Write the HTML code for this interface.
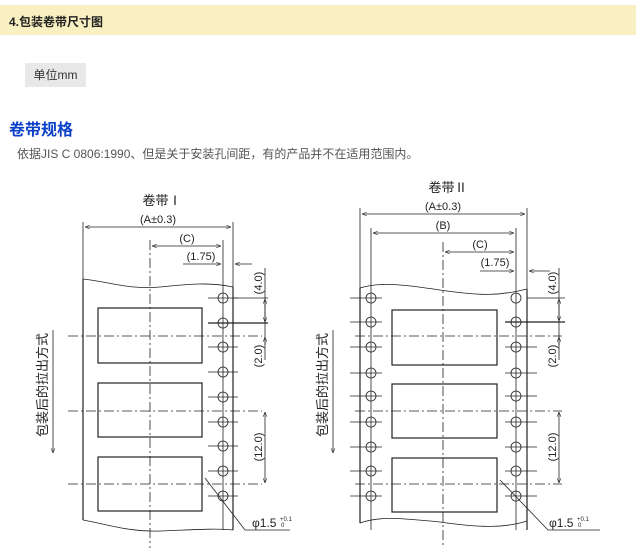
<!DOCTYPE html>
<html><head><meta charset="utf-8">
<style>
html,body{margin:0;padding:0;background:#fff;width:636px;height:551px;overflow:hidden}
body{font-family:"Liberation Sans","Noto Sans CJK SC",sans-serif;position:relative}
.hdr{position:absolute;left:0;top:5px;width:636px;height:30px;background:#f8f0c0;}
.hdr span{position:absolute;left:9px;top:8px;font-size:12px;font-weight:bold;color:#222}
.unit{position:absolute;left:25px;top:63px;width:61px;height:24px;background:#e8e8e8;font-size:12px;color:#333;line-height:24px;text-align:center}
.ttl{position:absolute;left:9px;top:116px;font-size:16px;font-weight:bold;color:#0a3fc7}
.desc{position:absolute;left:17px;top:145px;font-size:12px;color:#555}
svg{position:absolute;left:0;top:0}
</style></head><body>
<div class="hdr"><span>4.包装卷带尺寸图</span></div>
<div class="unit">单位mm</div>
<div class="ttl">卷带规格</div>
<div class="desc">依据JIS C 0806:1990、但是关于安装孔间距，有的产品并不在适用范围内。</div>
<svg width="636" height="551" viewBox="0 0 636 551" font-family="Liberation Sans, Noto Sans CJK SC, sans-serif">
<defs>
<marker id="a" viewBox="0 0 10 10" refX="10" refY="5" markerWidth="6" markerHeight="6" orient="auto-start-reverse"><path d="M0,1 L10,5 L0,9" fill="none" stroke="#222" stroke-width="1.2"/></marker>
</defs>
<g stroke="#222" fill="none" stroke-width="0.8">
<!-- LEFT -->
<line x1="83" y1="222" x2="83" y2="279"/><line x1="233" y1="222" x2="233" y2="287"/>
<line x1="85" y1="227" x2="231" y2="227" marker-start="url(#a)" marker-end="url(#a)"/>
<line x1="223" y1="240" x2="223" y2="530"/>
<line x1="152" y1="246" x2="221" y2="246" marker-start="url(#a)" marker-end="url(#a)"/>
<line x1="183" y1="264" x2="221" y2="264" marker-end="url(#a)"/>
<line x1="252" y1="264" x2="235" y2="264" marker-end="url(#a)"/>
<path d="M83,279 C110,282 130,290 160,287 C190,284 210,282 233,287" />
<path d="M83,520 C110,525 130,532 160,531 C190,530 215,528 233,530" />
<line x1="83" y1="279" x2="83" y2="520" stroke-width="1.2"/>
<line x1="233" y1="287" x2="233" y2="530" stroke-width="1.2"/>
<line x1="150" y1="240" x2="150" y2="548" stroke-dasharray="10,3,2,3"/>
<g stroke-dasharray="10,3,2,3"><line x1="68" y1="336" x2="262" y2="336"/><line x1="68" y1="411" x2="262" y2="411"/><line x1="68" y1="484" x2="262" y2="484"/></g>
<rect x="98" y="308" width="104" height="55" stroke-width="1.2"/>
<rect x="98" y="383" width="104" height="54" stroke-width="1.2"/>
<rect x="98" y="457" width="104" height="54" stroke-width="1.2"/>
<g>
<circle cx="223" cy="298" r="5"/><circle cx="223" cy="323" r="5"/><circle cx="223" cy="347" r="5"/><circle cx="223" cy="372" r="5"/><circle cx="223" cy="397" r="5"/><circle cx="223" cy="422" r="5"/><circle cx="223" cy="446" r="5"/><circle cx="223" cy="471" r="5"/><circle cx="223" cy="496" r="5"/>
<path d="M208,298h30M208,347h30M208,372h30M208,397h30M208,422h30M208,446h30M208,471h30M208,496h30"/>
<line x1="208" y1="323" x2="268" y2="323" stroke-width="1.2"/>
<line x1="233" y1="298" x2="268" y2="298"/>
</g>
<line x1="265" y1="268" x2="265" y2="360"/>
<line x1="265" y1="310" x2="265" y2="299" marker-end="url(#a)"/>
<line x1="265" y1="311" x2="265" y2="322" marker-end="url(#a)"/>
<line x1="265" y1="345" x2="265" y2="337" marker-end="url(#a)"/>
<line x1="265" y1="412" x2="265" y2="483" marker-start="url(#a)" marker-end="url(#a)"/>
<line x1="205" y1="478" x2="245" y2="530"/><line x1="245" y1="530" x2="290" y2="530"/>
<line x1="53" y1="330" x2="53" y2="453" marker-end="url(#a)"/>
<!-- RIGHT -->
<line x1="360" y1="208" x2="360" y2="288"/><line x1="527" y1="208" x2="527" y2="289"/>
<line x1="362" y1="214" x2="525" y2="214" marker-start="url(#a)" marker-end="url(#a)"/>
<line x1="371" y1="228" x2="371" y2="530"/><line x1="516" y1="228" x2="516" y2="530"/>
<line x1="373" y1="233" x2="514" y2="233" marker-start="url(#a)" marker-end="url(#a)"/>
<line x1="445" y1="252" x2="514" y2="252" marker-start="url(#a)" marker-end="url(#a)"/>
<line x1="480" y1="271" x2="514" y2="271" marker-end="url(#a)"/>
<line x1="550" y1="271" x2="529" y2="271" marker-end="url(#a)"/>
<path d="M360,288 C380,282 400,284 440,290 C480,296 500,296 527,289"/>
<path d="M360,523 C380,516 400,518 440,522 C480,528 505,528 527,521"/>
<line x1="360" y1="288" x2="360" y2="523" stroke-width="1.2"/>
<line x1="527" y1="289" x2="527" y2="530" stroke-width="1.2"/>
<line x1="443" y1="242" x2="443" y2="548" stroke-dasharray="10,3,2,3"/>
<g stroke-dasharray="10,3,2,3"><line x1="355" y1="336" x2="562" y2="336"/><line x1="355" y1="411" x2="562" y2="411"/><line x1="355" y1="484" x2="562" y2="484"/></g>
<rect x="392" y="310" width="105" height="55" stroke-width="1.2"/>
<rect x="392" y="384" width="105" height="54" stroke-width="1.2"/>
<rect x="392" y="458" width="105" height="54" stroke-width="1.2"/>
<circle cx="371" cy="298" r="5"/><circle cx="371" cy="322" r="5"/><circle cx="371" cy="347" r="5"/><circle cx="371" cy="373" r="5"/><circle cx="371" cy="396" r="5"/><circle cx="371" cy="422" r="5"/><circle cx="371" cy="447" r="5"/><circle cx="371" cy="471" r="5"/><circle cx="371" cy="496" r="5"/>
<circle cx="516" cy="298" r="5"/><circle cx="516" cy="322" r="5"/><circle cx="516" cy="347" r="5"/><circle cx="516" cy="373" r="5"/><circle cx="516" cy="396" r="5"/><circle cx="516" cy="422" r="5"/><circle cx="516" cy="447" r="5"/><circle cx="516" cy="471" r="5"/><circle cx="516" cy="496" r="5"/>
<path d="M350,298h32M350,322h32M350,347h32M350,373h32M350,396h32M350,422h32M350,447h32M350,471h32M350,496h32"/>
<path d="M505,347h32M505,373h32M505,396h32M505,422h32M505,447h32M505,471h32M505,496h32"/>
<line x1="527" y1="298" x2="565" y2="298"/>
<line x1="505" y1="322" x2="565" y2="322" stroke-width="1.2"/>
<line x1="559" y1="268" x2="559" y2="360"/>
<line x1="559" y1="310" x2="559" y2="299" marker-end="url(#a)"/>
<line x1="559" y1="311" x2="559" y2="321" marker-end="url(#a)"/>
<line x1="559" y1="345" x2="559" y2="337" marker-end="url(#a)"/>
<line x1="559" y1="412" x2="559" y2="483" marker-start="url(#a)" marker-end="url(#a)"/>
<line x1="500" y1="480" x2="548" y2="530"/><line x1="548" y1="530" x2="600" y2="530"/>
<line x1="333" y1="330" x2="333" y2="453" marker-end="url(#a)"/>
</g>
<g fill="#222" font-size="11">
<text x="162" y="205" text-anchor="middle" font-size="13">卷带Ⅰ</text>
<text x="158" y="223" text-anchor="middle">(A±0.3)</text>
<text x="187" y="242" text-anchor="middle">(C)</text>
<text x="201" y="260" text-anchor="middle">(1.75)</text>
<text transform="translate(262,283) rotate(-90)" text-anchor="middle">(4.0)</text>
<text transform="translate(262,356) rotate(-90)" text-anchor="middle">(2.0)</text>
<text transform="translate(262,447) rotate(-90)" text-anchor="middle">(12.0)</text>
<text x="252" y="527" font-size="12">φ1.5</text><text x="280" y="521" font-size="6">+0.1</text><text x="281" y="527" font-size="6">0</text>
<text transform="translate(47,385) rotate(-90)" text-anchor="middle" font-size="13">包装后的拉出方式</text>
<text x="448" y="192" text-anchor="middle" font-size="13">卷带Ⅱ</text>
<text x="443" y="210" text-anchor="middle">(A±0.3)</text>
<text x="443" y="229" text-anchor="middle">(B)</text>
<text x="480" y="248" text-anchor="middle">(C)</text>
<text x="495" y="266" text-anchor="middle">(1.75)</text>
<text transform="translate(556,283) rotate(-90)" text-anchor="middle">(4.0)</text>
<text transform="translate(556,356) rotate(-90)" text-anchor="middle">(2.0)</text>
<text transform="translate(556,447) rotate(-90)" text-anchor="middle">(12.0)</text>
<text x="549" y="527" font-size="12">φ1.5</text><text x="577" y="521" font-size="6">+0.1</text><text x="578" y="527" font-size="6">0</text>
<text transform="translate(327,385) rotate(-90)" text-anchor="middle" font-size="13">包装后的拉出方式</text>
</g>
</svg>
</body></html>
